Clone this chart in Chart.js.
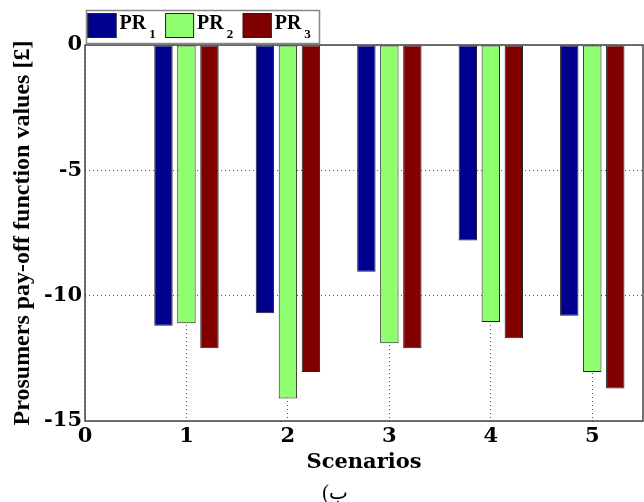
<!DOCTYPE html>
<html>
<head>
<meta charset="utf-8">
<script src="https://cdn.jsdelivr.net/npm/chart.js@4.4.0/dist/chart.umd.min.js"></script>
<style>
  html, body { margin: 0; padding: 0; background: #fff; }
</style>
</head>
<body>
<canvas id="grafico" width="644" height="502"></canvas>
<script>
// valores
const scenarios = [1, 2, 3, 4, 5];
const pr1 = [-11.2, -10.7, -9.05, -7.8, -10.8];
const pr2 = [-11.1, -14.1, -11.9, -11.05, -13.05];
const pr3 = [-12.1, -13.05, -12.1, -11.7, -13.7];
const seriesLabels = ['PR_1', 'PR_2', 'PR_3'];
const seriesColors = ['#00008f', '#8fff6f', '#800000'];
const xTicks = [0, 1, 2, 3, 4, 5];
const yTicks = [-15, -10, -5, 0];
const xTitle = 'Scenarios';
const yTitle = 'Prosumers pay-off function values [£]';
const caption = '(ب';

const series = [pr1, pr2, pr3];

// moldura do grafico
const moldura = {
    id: 'moldura',
    afterDatasetsDraw(chart) {
        const { ctx, chartArea: a } = chart;
        ctx.save();
        ctx.strokeStyle = '#444';
        ctx.lineWidth = 1.5;
        ctx.strokeRect(a.left, a.top, a.right - a.left, a.bottom - a.top);
        ctx.restore();
    }
};

// legenda com subscrito (PR_1 -> PR + 1 rebaixado)
const legendaPR = {
    id: 'legendaPR',
    afterDraw(chart) {
        const ctx = chart.ctx;
        ctx.save();
        ctx.fillStyle = '#fff';
        ctx.fillRect(86, 10, 233, 33);
        ctx.strokeStyle = '#888';
        ctx.lineWidth = 1.5;
        ctx.strokeRect(86.5, 10.5, 233, 33);
        chart.data.datasets.forEach((ds, i) => {
            const x = 87.5 + i * 77.6;
            ctx.fillStyle = ds.backgroundColor;
            ctx.fillRect(x, 13, 29, 25);
            ctx.strokeStyle = '#222';
            ctx.lineWidth = 1;
            ctx.strokeRect(x + 0.5, 13.5, 28, 24);
            const [main, sub] = ds.label.split('_');
            ctx.fillStyle = '#000';
            ctx.textBaseline = 'alphabetic';
            ctx.textAlign = 'left';
            ctx.font = 'bold 20px "Liberation Serif"';
            ctx.fillText(main, x + 32, 28.5);
            const w = ctx.measureText(main).width;
            ctx.font = 'bold 13px "Liberation Serif"';
            ctx.fillText(sub, x + 32 + w + 3, 37.5);
        });
        ctx.restore();
    }
};

// legenda inferior (b)
const rodape = {
    id: 'rodape',
    afterDraw(chart) {
        const ctx = chart.ctx;
        ctx.save();
        ctx.fillStyle = '#000';
        ctx.textAlign = 'center';
        ctx.textBaseline = 'middle';
        ctx.font = '20px "Liberation Serif", "DejaVu Sans"';
        ctx.fillText(caption, 335, 494);
        ctx.restore();
    }
};

const fonteEixo = { family: 'DejaVu Serif', weight: 'bold', size: 21 };

const ctx = document.getElementById('grafico').getContext('2d');
window.grafico = new Chart(ctx, {
    type: 'bar',
    data: {
        datasets: series.map((vals, i) => ({
            label: seriesLabels[i],
            data: scenarios.map((s, j) => ({ x: s, y: vals[j] })),
            backgroundColor: seriesColors[i],
            borderColor: '#222',
            borderWidth: 1,
            borderSkipped: false,
            barPercentage: 0.8,
            categoryPercentage: 0.68
        }))
    },
    options: {
        responsive: false,
        animation: false,
        layout: { padding: { top: 45, right: 1, left: 0, bottom: 0 } },
        plugins: {
            legend: { display: false },
            tooltip: { enabled: false }
        },
        scales: {
            x: {
                type: 'linear',
                min: 0,
                max: 5.5,
                offset: false,
                afterBuildTicks: s => { s.ticks = xTicks.map(v => ({ value: v })); },
                afterFit: s => { s.height = 81; },
                grid: { offset: false, color: '#555', lineWidth: 1, drawTicks: false },
                border: { display: false, dash: [1, 3] },
                ticks: { color: '#000', font: fonteEixo, padding: 3, maxRotation: 0 },
                title: {
                    display: true, text: xTitle, color: '#000',
                    font: fonteEixo, padding: { top: 0, bottom: 27 }
                }
            },
            y: {
                min: -15,
                max: 0,
                afterBuildTicks: s => { s.ticks = yTicks.map(v => ({ value: v })); },
                afterFit: s => { s.width = 85; },
                grid: { color: '#555', lineWidth: 1, drawTicks: false },
                border: { display: false, dash: [1, 3] },
                ticks: { color: '#000', font: fonteEixo, padding: 3 },
                title: {
                    display: true, text: yTitle, color: '#000',
                    font: { family: 'Liberation Serif', weight: 'bold', size: 24 },
                    padding: { top: 8, bottom: 0 }
                }
            }
        }
    },
    plugins: [moldura, legendaPR, rodape]
});
</script>
</body>
</html>
